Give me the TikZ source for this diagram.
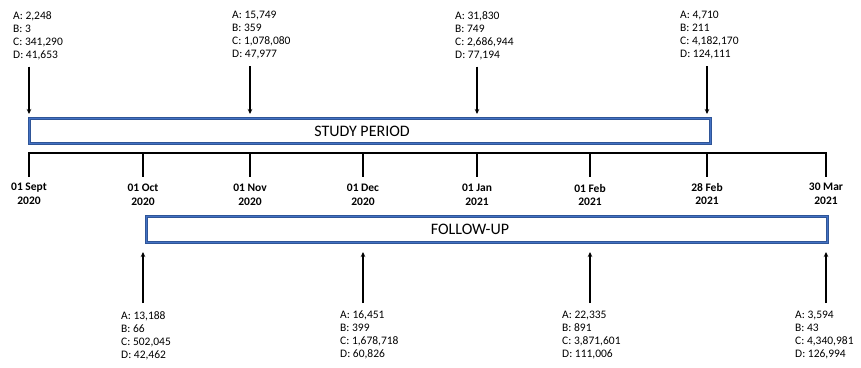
\documentclass[tikz,border=0pt]{standalone}
\usepackage{fontspec}
\setmainfont{Carlito}
\usetikzlibrary{arrows.meta}
\definecolor{boxdark}{RGB}{47,85,151}
\definecolor{boxblue}{RGB}{68,114,196}
\tikzset{
	counts/.style={anchor=north west,align=left,inner sep=0pt,font=\fontsize{11.5}{13}\selectfont},
	datelbl/.style={anchor=north,align=center,inner sep=0pt,font=\fontsize{11.5}{13.5}\selectfont\bfseries},
	period/.style={draw=boxdark,double=boxblue,line width=1pt,double distance=1.6pt,inner sep=0pt,anchor=north west},
	periodtxt/.style={inner sep=0pt,font=\fontsize{16}{16}\selectfont},
	tickline/.style={line width=1.8pt},
	pointer/.style={line width=1.3pt,-{Stealth[length=5pt,width=4.5pt]}}
}

\begin{document}
\begin{tikzpicture}[x=1pt,y=-1pt]
	\useasboundingbox (0,0) rectangle (861,367);

	% timeline
	\coordinate (t1) at (29,153);
	\coordinate (t2) at (143,153);
	\coordinate (t3) at (250,153);
	\coordinate (t4) at (363,153);
	\coordinate (t5) at (477,153);
	\coordinate (t6) at (590,153);
	\coordinate (t7) at (707,153);
	\coordinate (t8) at (826,153);

	\draw [tickline] ([yshift=-24pt]t1) -- (t1) -- (t8) -- ([yshift=-24pt]t8);
	\draw [tickline] (t2) -- ([yshift=-24pt]t2);
	\draw [tickline] (t3) -- ([yshift=-24pt]t3);
	\draw [tickline] (t4) -- ([yshift=-24pt]t4);
	\draw [tickline] (t5) -- ([yshift=-24pt]t5);
	\draw [tickline] (t6) -- ([yshift=-24pt]t6);
	\draw [tickline] (t7) -- ([yshift=-24pt]t7);

	\node [datelbl] (d1) at (29,183) {01 Sept\\2020};
	\node [datelbl] (d2) at (143,184) {01 Oct\\2020};
	\node [datelbl] (d3) at (250,184) {01 Nov\\2020};
	\node [datelbl] (d4) at (363,184) {01 Dec\\2020};
	\node [datelbl] (d5) at (477,184) {01 Jan\\2021};
	\node [datelbl] (d6) at (590,184) {01 Feb\\2021};
	\node [datelbl] (d7) at (707,183) {28 Feb\\2021};
	\node [datelbl] (d8) at (826,183) {30 Mar\\2021};

	% periods
	\node [period,minimum width=681pt,minimum height=25pt] (study) at (29,118) {};
	\node [periodtxt] (studytxt) at (362,131) {STUDY PERIOD};
	\node [period,minimum width=681pt,minimum height=26pt] (follow) at (146,216) {};
	\node [periodtxt] (followtxt) at (470,229) {FOLLOW-UP};

	% counts above
	\node [counts] (top1) at (13,11) {A: 2,248\\B: 3\\C: 341,290\\D: 41,653};
	\node [counts] (top2) at (232,11) {A: 15,749\\B: 359\\C: 1,078,080\\D: 47,977};
	\node [counts] (top3) at (455,11) {A: 31,830\\B: 749\\C: 2,686,944\\D: 77,194};
	\node [counts] (top4) at (680,11) {A: 4,710\\B: 211\\C: 4,182,170\\D: 124,111};

	\draw [pointer,shorten >=4pt] ([yshift=-7pt]top1.south -| t1) -- (study.north -| t1);
	\draw [pointer,shorten >=4pt] ([yshift=-7pt]top2.south -| t3) -- (study.north -| t3);
	\draw [pointer,shorten >=4pt] ([yshift=-7pt]top3.south -| t5) -- (study.north -| t5);
	\draw [pointer,shorten >=4pt] ([yshift=-7pt]top4.south -| t7) -- (study.north -| t7);

	% counts below
	\node [counts] (bot1) at (121,311) {A: 13,188\\B: 66\\C: 502,045\\D: 42,462};
	\node [counts] (bot2) at (340,311) {A: 16,451\\B: 399\\C: 1,678,718\\D: 60,826};
	\node [counts] (bot3) at (562,311) {A: 22,335\\B: 891\\C: 3,871,601\\D: 111,006};
	\node [counts] (bot4) at (795,311) {A: 3,594\\B: 43\\C: 4,340,981\\D: 126,994};

	\draw [pointer,shorten >=9pt] ([yshift=8pt]bot1.north -| t2) -- (follow.south -| t2);
	\draw [pointer,shorten >=9pt] ([yshift=8pt]bot2.north -| t4) -- (follow.south -| t4);
	\draw [pointer,shorten >=9pt] ([yshift=8pt]bot3.north -| t6) -- (follow.south -| t6);
	\draw [pointer,shorten >=9pt] ([yshift=8pt]bot4.north -| t8) -- (follow.south -| t8);
\end{tikzpicture}
\end{document}
